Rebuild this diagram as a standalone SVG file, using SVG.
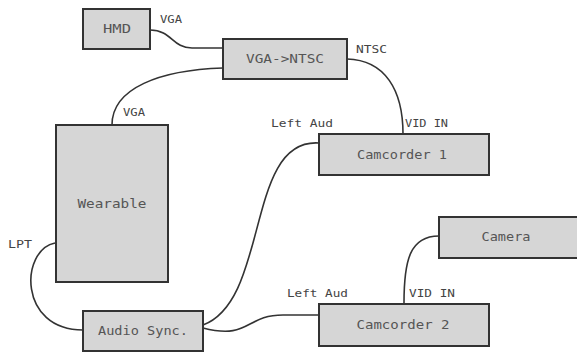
<svg xmlns="http://www.w3.org/2000/svg" width="577" height="353" viewBox="0 0 577 353">
<style>
.box{fill:#d6d6d6;stroke:#333;stroke-width:2}
.t{font-family:"DejaVu Sans Mono","Liberation Mono",monospace;font-size:11.5px;fill:#555;text-anchor:middle;dominant-baseline:central}
.l{font-family:"DejaVu Sans Mono","Liberation Mono",monospace;font-size:10px;fill:#444}
.c{fill:none;stroke:#333;stroke-width:1.6}
</style>
<rect width="577" height="353" fill="#fff"/>
<g id="connectors">
<path class="c" d="M150,30 C172,30 172,48 192,48 L223,48"/>
<path class="c" d="M223,68 C160,70 112,88 112,125"/>
<path class="c" d="M347,59 C385,60 403,90 403,134"/>
<path class="c" d="M319,143 C245,138 270,300 203,325"/>
<path class="c" d="M203,328 C250,340 245,315 283,315 L319,315"/>
<path class="c" d="M439,236 C410,236 404,260 404,303"/>
<path class="c" d="M55,243 C20,250 18,330 83,330"/>
</g>
<g id="labels">
<text class="l" x="160" y="23" textLength="22" lengthAdjust="spacingAndGlyphs">VGA</text>
<text class="l" x="123" y="116" textLength="22" lengthAdjust="spacingAndGlyphs">VGA</text>
<text class="l" x="356" y="53" textLength="31" lengthAdjust="spacingAndGlyphs">NTSC</text>
<text class="l" x="271" y="127" textLength="62" lengthAdjust="spacingAndGlyphs">Left Aud</text>
<text class="l" x="405" y="127" textLength="43" lengthAdjust="spacingAndGlyphs">VID IN</text>
<text class="l" x="287" y="297" textLength="61" lengthAdjust="spacingAndGlyphs">Left Aud</text>
<text class="l" x="409" y="297" textLength="46" lengthAdjust="spacingAndGlyphs">VID IN</text>
<text class="l" x="8" y="248" textLength="24" lengthAdjust="spacingAndGlyphs">LPT</text>
</g>
<g id="hmd"><rect class="box" x="83" y="9" width="67" height="40"/><text class="t" x="117" y="29" textLength="28" lengthAdjust="spacingAndGlyphs">HMD</text></g>
<g id="vga2ntsc"><rect class="box" x="223" y="39" width="124" height="40"/><text class="t" x="285" y="59" textLength="78" lengthAdjust="spacingAndGlyphs">VGA-&gt;NTSC</text></g>
<g id="wearable"><rect class="box" x="56" y="125" width="112" height="157"/><text class="t" x="112" y="204" textLength="69" lengthAdjust="spacingAndGlyphs">Wearable</text></g>
<g id="audiosync"><rect class="box" x="83" y="311" width="120" height="40"/><text class="t" x="143" y="331" textLength="90" lengthAdjust="spacingAndGlyphs">Audio Sync.</text></g>
<g id="camcorder1"><rect class="box" x="319" y="134" width="170" height="41"/><text class="t" x="402" y="155" textLength="90" lengthAdjust="spacingAndGlyphs">Camcorder 1</text></g>
<g id="camera"><rect class="box" x="439" y="217" width="140" height="41"/><text class="t" x="506" y="237" textLength="49" lengthAdjust="spacingAndGlyphs">Camera</text></g>
<g id="camcorder2"><rect class="box" x="319" y="304" width="170" height="42"/><text class="t" x="403" y="325" textLength="93" lengthAdjust="spacingAndGlyphs">Camcorder 2</text></g>
</svg>
